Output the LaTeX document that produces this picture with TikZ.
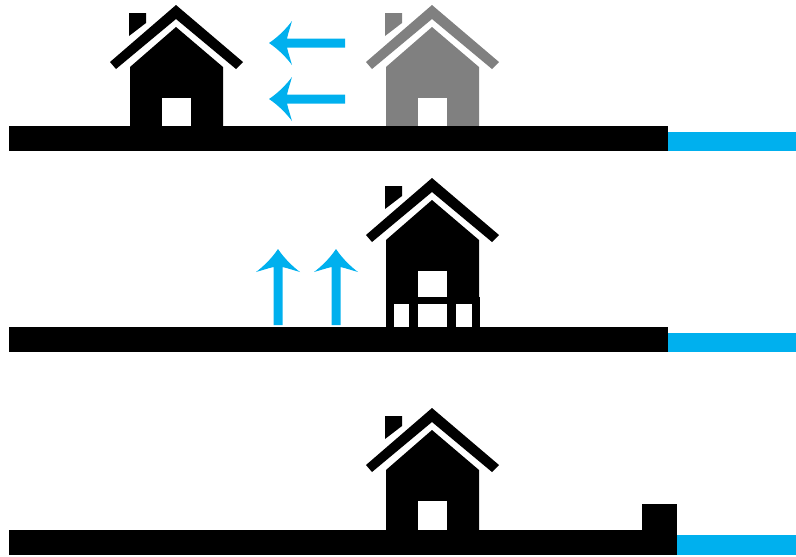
\documentclass[tikz,border=0pt]{standalone}
\usepackage{xcolor}
\definecolor{waterblue}{RGB}{0,176,238}
\definecolor{housegray}{RGB}{128,128,128}

\tikzset{
    house/.pic={
        % roof, chimney, body
        \fill[pic actions] (-66,57) -- (0,0) -- (67,57) -- (60,64) -- (0,14) -- (-60,64) -- cycle;
        \fill[pic actions] (-47,8) -- (-30,8) -- (-30,18) -- (-47,31) -- cycle;
        \fill[pic actions] (0,22) -- (47,62) -- (47,122) -- (-46,122) -- (-46,62) -- cycle;
        \fill[white] (-14.5,93) rectangle (15,122);
    },
    flowarrow/.pic={
        \fill[waterblue] (0,0) .. controls (9,-6) and (17,-14) .. (23,-22)
            .. controls (21,-15) and (19,-9) .. (18,-4.5) -- (76,-4.5) -- (76,4.5) -- (18,4.5)
            .. controls (19,9) and (21,15) .. (23,22)
            .. controls (17,14) and (9,6) .. (0,0) -- cycle;
    }
}

\begin{document}
\begin{tikzpicture}[x=0.02cm,y=-0.02cm]
\useasboundingbox (0,0) rectangle (796,556);

% --------------------------------------------------
% Top: house moved back
% --------------------------------------------------
\pic[fill=black] at (176,5) {house};
\pic[fill=housegray] at (432,5) {house};
\fill[black] (9,126) rectangle (668,151);
\fill[waterblue] (668,132) rectangle (796,151);
\pic at (269,43) {flowarrow};
\pic at (269,99) {flowarrow};

% --------------------------------------------------
% Middle: house raised
% --------------------------------------------------
\fill[black] (9,327) rectangle (668,352);
\fill[waterblue] (668,333) rectangle (796,352);
\pic[fill=black] at (432,178) {house};
\fill[black] (386,297) rectangle (480,327);
\fill[white] (394,304) rectangle (409,327);
\fill[white] (418,304) rectangle (447,327);
\fill[white] (456,304) rectangle (472,327);
\pic[rotate=-90] at (278,249) {flowarrow};
\pic[rotate=-90] at (336,249) {flowarrow};

% --------------------------------------------------
% Bottom: sea wall
% --------------------------------------------------
\fill[black] (9,530) rectangle (677,555);
\fill[black] (642,504) rectangle (677,555);
\fill[waterblue] (677,535) rectangle (796,555);
\pic[fill=black] at (432,408) {house};

\end{tikzpicture}
\end{document}
